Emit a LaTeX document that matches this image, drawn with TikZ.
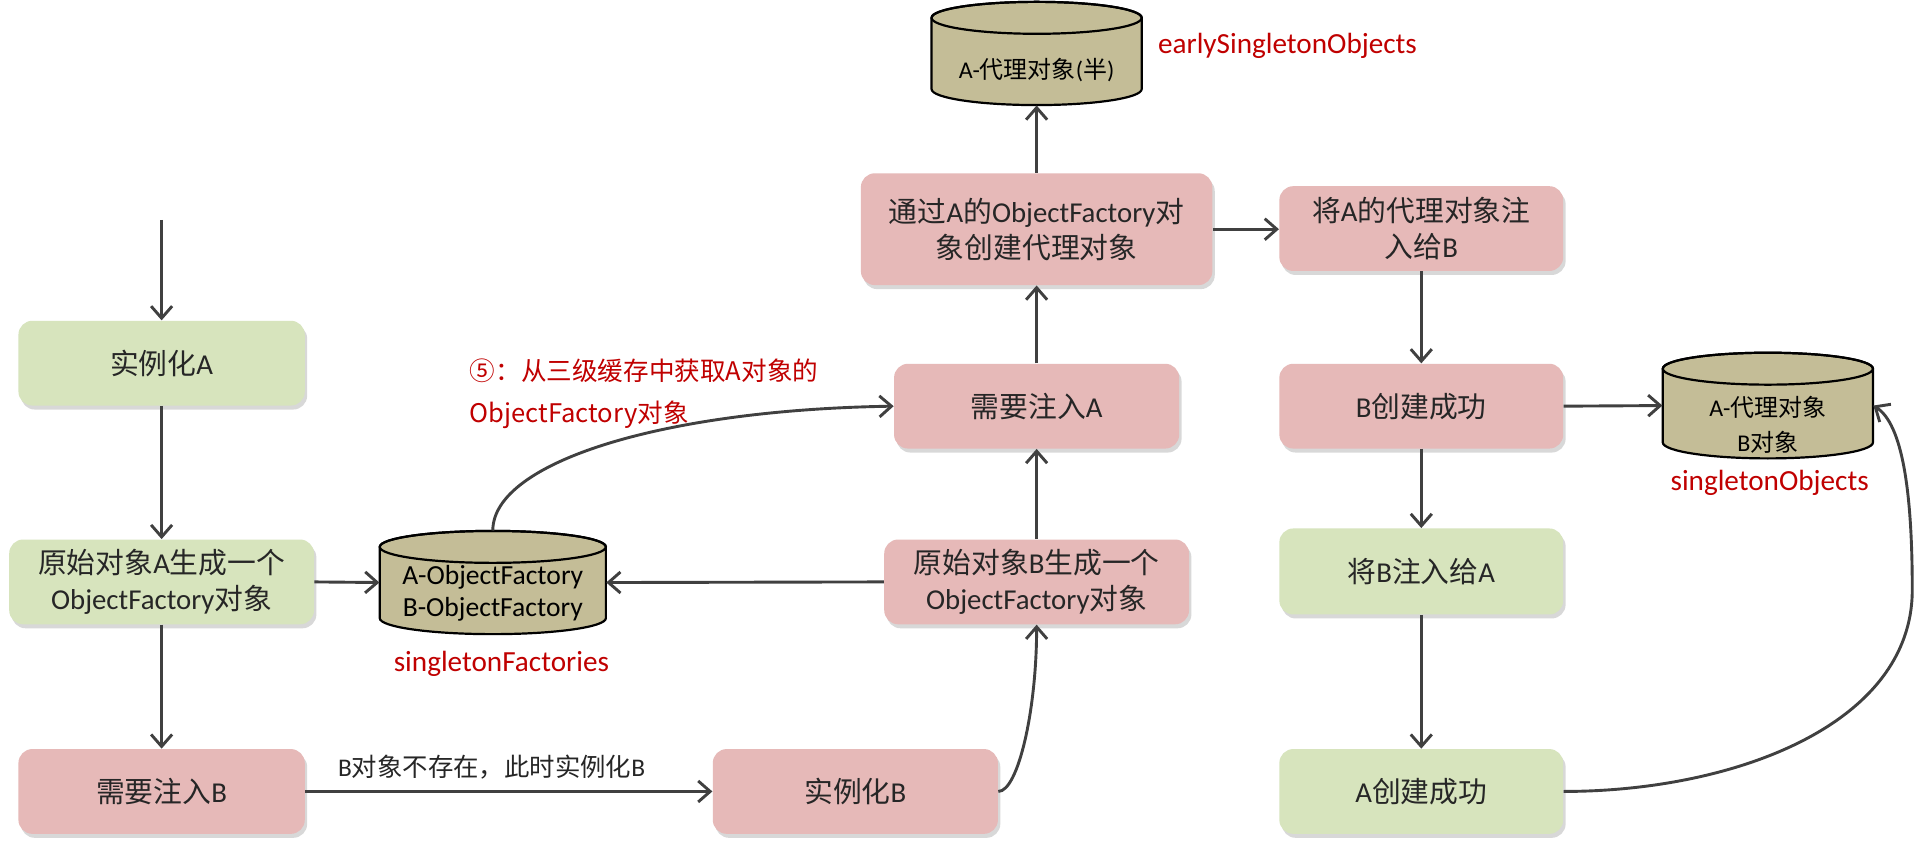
\documentclass[tikz,border=0pt]{standalone}
\usepackage{fontspec}
\setmainfont{Carlito}
\newfontfamily\cjk{Noto Sans CJK SC}
\usetikzlibrary{arrows.meta,shadows}
\newcommand\zh[1]{{\cjk #1}}
\definecolor{boxgreen}{HTML}{D7E4BD}
\definecolor{boxpink}{HTML}{E6B9B8}
\definecolor{cyltan}{HTML}{C4BD97}
\definecolor{redtxt}{HTML}{C00000}
\definecolor{arrgray}{HTML}{404040}
\definecolor{txtgray}{HTML}{262626}
\newcommand\drawcyl[5]{%
  \filldraw[fill=cyltan, draw=black, line width=1.1pt]
    ({#1-#3},{#2-#4+#5}) -- ({#1-#3},{#2+#4-#5})
    arc[start angle=180, end angle=0, x radius=#3, y radius=#5]
    -- ({#1+#3},{#2-#4+#5})
    arc[start angle=0, end angle=-180, x radius=#3, y radius=#5] -- cycle;
  \draw[black, line width=1.1pt] (#1,{#2-#4+#5}) ellipse[x radius=#3, y radius=#5];
}
\begin{document}
\begin{tikzpicture}[x=0.6145pt, y=-0.6145pt,
  bsize/.style 2 args={minimum width=#1*0.6145pt, minimum height=#2*0.6145pt},
  flowbox/.style={rounded corners=7pt, align=center, text=txtgray, inner sep=0pt,
    font=\fontsize{14.4}{18}\selectfont,
    drop shadow={shadow xshift=1.2pt, shadow yshift=-2pt, opacity=0.3}},
  gbox/.style={flowbox, fill=boxgreen},
  pbox/.style={flowbox, fill=boxpink},
  cylarea/.style={inner sep=0pt},
  cyltext/.style={align=center, text=black, inner sep=0pt},
  redlabel/.style={text=redtxt, font=\fontsize{14.6}{17}\selectfont, inner sep=0pt},
  conn/.style={draw=arrgray, line width=1.45pt, -{Straight Barb[length=6pt,width=10.5pt]}},
]
\fill[white] (0,0) rectangle (1568,690);
\useasboundingbox (0,0) rectangle (1568,690);

% cylinders
\drawcyl{401}{474}{92}{42}{13}
\drawcyl{843.5}{43.5}{85.5}{42}{13}
\drawcyl{1438.5}{330}{85.5}{43}{13}
\node[cylarea, bsize={184}{84}] (c1) at (401,474) {};
\node[cylarea, bsize={171}{84}] (c2) at (843.5,43.5) {};
\node[cylarea, bsize={171}{86}] (c3) at (1438.5,330) {};
\node[cyltext, font=\fontsize{13.8}{16}\selectfont] (c1t) at (401,483) {A-ObjectFactory\\B-ObjectFactory};
\node[cyltext, font=\fontsize{12}{17.5}\selectfont] (c2t) at (843.5,57) {A-\zh{代理对象}(\zh{半})};
\node[cyltext, font=\fontsize{12}{17.5}\selectfont] (c3t) at (1438.5,345.5) {A-\zh{代理对象}\\B\zh{对象}};

% boxes
\node[gbox, bsize={233}{69}] (ia) at (131.5,295.5) {\zh{实例化}A};
\node[gbox, bsize={248}{69}] (oa) at (131.5,473.5) {\zh{原始对象}A\zh{生成一个}\\ObjectFactory\zh{对象}};
\node[pbox, bsize={233}{69}] (nb) at (131.5,644) {\zh{需要注入}B};
\node[pbox, bsize={232}{69}] (ib) at (696,644) {\zh{实例化}B};
\node[pbox, bsize={248}{69}] (ob) at (843.5,473.5) {\zh{原始对象}B\zh{生成一个}\\ObjectFactory\zh{对象}};
\node[pbox, bsize={232}{69}] (na) at (843.5,330.5) {\zh{需要注入}A};
\node[pbox, bsize={286}{91}] (via) at (843.5,186.5) {\zh{通过}A\zh{的}ObjectFactory\zh{对}\\\zh{象创建代理对象}};
\node[pbox, bsize={231}{69}] (pa) at (1156.5,186) {\zh{将}A\zh{的代理对象注}\\\zh{入给}B};
\node[pbox, bsize={231}{69}] (bs) at (1156.5,330.5) {B\zh{创建成功}};
\node[gbox, bsize={231}{70}] (ba) at (1156.5,465) {\zh{将}B\zh{注入给}A};
\node[gbox, bsize={231}{69}] (as) at (1156.5,644) {A\zh{创建成功}};

% labels
\node[redlabel, anchor=west] (l2) at (942,37) {earlySingletonObjects};
\node[redlabel] (l1) at (408,540) {singletonFactories};
\node[redlabel] (l3) at (1440,393) {singletonObjects};
\node[anchor=west, text=redtxt, font=\cjk\fontsize{12.8}{21}\selectfont, align=left, inner sep=0pt] (note) at (382,320.5) {⑤：从三级缓存中获取A对象的\\ObjectFactory对象};
\node[text=txtgray, font=\fontsize{12.7}{15}\selectfont, inner sep=0pt] (lbl) at (400,624) {B\zh{对象不存在，此时实例化}B};

% connectors
\coordinate (top) at (131.5,179);
\draw[conn] (top) -- (ia.north);
\draw[conn] (ia.south) -- (oa.north);
\draw[conn] (oa.south) -- (nb.north);
\draw[conn] (oa.east) -- (c1.west);
\draw[conn] (nb.east) -- (ib.west);
\draw[conn] (ib.east) .. controls +(16,0) and +(0,70) .. (ob.south);
\draw[conn] (ob.west) -- (c1.east);
\draw[conn] (ob.north) -- (na.south);
\draw[conn] (c1.north) .. controls +(0,-55) and +(-190,3) .. (na.west);
\draw[conn] (na.north) -- (via.south);
\draw[conn] (via.north) -- (c2.south);
\draw[conn] (via.east) -- (via.east -| pa.west);
\draw[conn] (pa.south) -- (bs.north);
\draw[conn] (bs.east) -- (c3.west);
\draw[conn] (bs.south) -- (ba.north);
\draw[conn] (ba.south) -- (as.north);
\draw[conn] (as.east) .. controls (1410,644) and (1556,590) .. (1556,480) .. controls (1556,400) and (1548,345) .. (c3.east);
\end{tikzpicture}
\end{document}
